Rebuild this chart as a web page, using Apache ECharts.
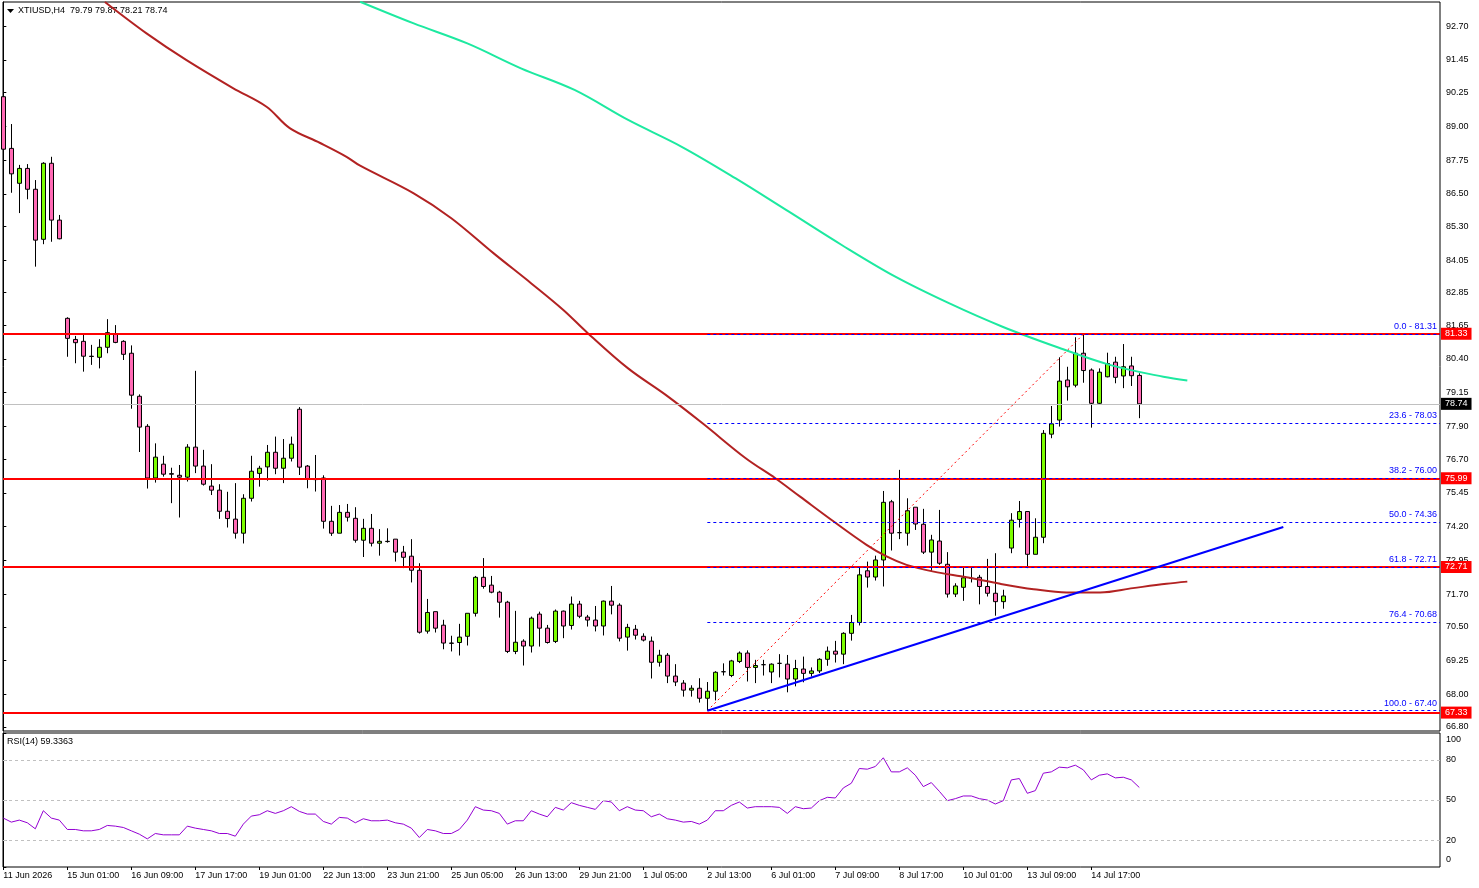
<!DOCTYPE html>
<html lang="en">
<head>
    <meta charset="UTF-8"/>
    <title>XTIUSD,H4</title>
    <script src="https://cdn.jsdelivr.net/npm/echarts@6/dist/echarts.min.js"></script>
    <style>
        html, body { margin: 0; padding: 0; background: #fff; }
        #chart { width: 1479px; height: 888px; }
    </style>
</head>
<body>
<div id="chart"></div>
<script type="text/javascript">
    // H4 bars (index = bar number from the left)
    var barOpen = [90.09, 88.18, 86.89, 87.44, 86.67, 84.82, 87.63, 85.53,
        81.90, 81.12, 81.05, 80.50, 80.46, 80.83, 81.32, 81.05, 80.61, 79.02, 77.91, 76.00,
        76.51, 76.16, 76.10, 76.03, 77.14, 76.44, 75.70, 75.55, 74.77, 74.48,
        73.96, 75.25, 76.17, 76.41, 76.95, 76.36, 76.73, 78.54, 76.44, 75.97,
        76.00, 74.40, 73.96, 74.73, 74.51, 73.70, 74.14, 73.59, 73.66, 73.74,
        73.26, 73.11, 72.59, 70.34, 71.06, 70.56, 69.90, 69.92, 70.15, 71.00,
        72.33, 72.04, 71.78, 71.41, 69.59, 69.97, 69.79, 70.97, 70.45, 69.96,
        71.08, 70.55, 71.34, 70.86, 70.75, 70.53, 71.45, 71.30, 70.12, 70.41,
        70.15, 69.97, 69.19, 69.45, 68.68, 68.42, 68.16, 68.23, 67.86, 68.12,
        68.84, 68.70, 69.22, 69.53, 69.00, 69.10, 68.83, 69.15, 69.12, 68.57,
        68.94, 68.78, 68.87, 69.30, 69.60, 69.49, 70.26, 70.66, 72.57, 72.34,
        72.97, 75.12, 73.98, 73.96, 74.92, 74.29, 73.26, 73.67, 72.81, 71.71,
        71.96, 72.29, 72.33, 71.99, 71.74, 71.43, 73.41, 74.47, 74.76, 73.18,
        73.81, 77.62, 78.14, 79.62, 79.43, 80.61, 79.99, 78.76, 79.74, 80.28,
        79.77, 80.14, 79.79];
    var barClose = [88.15, 87.24, 87.44, 86.67, 84.79, 87.63, 85.53, 84.84,
        81.16, 81.00, 80.50, 80.49, 80.83, 81.37, 81.01, 80.57, 79.06, 77.88, 76.00, 76.77,
        76.14, 76.14, 76.03, 77.14, 76.44, 75.77, 75.55, 74.77, 74.50, 73.96,
        75.25, 76.25, 76.36, 76.95, 76.36, 76.73, 77.25, 76.40, 75.96, 75.94,
        74.40, 73.96, 74.73, 74.55, 73.70, 74.14, 73.59, 73.66, 73.65, 73.26,
        73.07, 72.59, 70.30, 71.03, 70.45, 69.90, 69.89, 70.12, 71.00, 72.33,
        71.99, 71.78, 71.41, 69.59, 69.93, 69.79, 70.82, 70.45, 69.92, 71.08,
        70.53, 71.34, 70.89, 70.75, 70.53, 71.45, 71.30, 70.08, 70.48, 70.19,
        70.01, 69.19, 69.45, 68.68, 68.46, 68.16, 68.23, 67.86, 68.12, 68.82,
        68.84, 69.24, 69.53, 69.00, 69.07, 69.10, 69.12, 69.15, 68.57, 68.96,
        68.78, 68.87, 69.30, 69.60, 69.49, 70.26, 70.66, 72.42, 72.34, 72.97,
        75.10, 73.96, 73.98, 74.79, 74.30, 73.26, 73.71, 72.85, 71.71, 72.01,
        72.31, 72.29, 71.99, 71.74, 71.43, 71.64, 74.44, 74.76, 73.18, 73.81,
        77.65, 78.00, 79.58, 79.37, 80.61, 79.97, 78.76, 79.91, 80.23, 79.72,
        80.11, 79.78, 78.74];
    var barLow = [87.27, 86.54, 85.79, 86.30, 83.81, 84.64, 84.73, 84.82,
        80.48, 80.24, 79.93, 80.18, 80.05, 80.61, 80.98, 80.36, 78.56, 76.96, 75.61, 75.83,
        76.05, 75.07, 74.54, 75.87, 76.18, 75.72, 75.37, 74.49, 74.17, 73.76,
        73.58, 75.13, 75.68, 75.90, 76.14, 75.81, 76.61, 76.11, 75.62, 75.50,
        74.13, 73.86, 73.96, 74.39, 73.61, 73.08, 73.47, 73.13, 73.61, 72.91,
        72.67, 72.14, 70.25, 70.25, 70.29, 69.67, 69.59, 69.44, 69.81, 70.88,
        71.91, 71.74, 70.84, 69.53, 69.49, 69.07, 69.55, 69.77, 69.88, 69.90,
        70.08, 70.40, 70.82, 70.51, 70.33, 70.18, 70.96, 69.96, 69.62, 70.03,
        69.96, 68.59, 69.03, 68.42, 68.31, 67.92, 67.92, 67.70, 67.40, 67.78,
        68.70, 68.64, 69.16, 68.48, 68.42, 68.70, 68.42, 68.63, 68.08, 68.30,
        68.45, 68.66, 68.79, 69.06, 69.18, 69.12, 69.99, 70.55, 71.95, 72.21,
        71.99, 73.32, 73.74, 73.50, 74.08, 73.19, 72.57, 72.79, 71.58, 71.60,
        71.46, 72.14, 71.33, 71.62, 70.91, 71.17, 73.22, 74.17, 72.67, 73.18,
        73.59, 77.47, 77.90, 78.86, 79.35, 79.52, 77.86, 78.74, 79.72, 79.50,
        79.32, 79.40, 78.21];
    var barHigh = [92.26, 89.08, 87.57, 87.60, 87.01, 87.67, 87.87, 85.72,
        81.94, 81.25, 81.35, 80.92, 81.13, 81.87, 81.65, 81.09, 80.90, 79.09, 77.99, 77.28,
        76.82, 76.38, 76.48, 77.25, 79.96, 77.04, 76.51, 75.77, 75.49, 75.81,
        75.40, 76.82, 76.45, 77.22, 77.53, 77.44, 77.53, 78.62, 76.48, 76.85,
        76.10, 74.97, 75.00, 75.04, 74.92, 74.49, 74.67, 74.11, 74.14, 73.74,
        73.49, 73.74, 72.85, 71.53, 71.06, 70.76, 70.17, 70.61, 71.00, 72.38,
        73.04, 72.38, 71.83, 71.46, 71.09, 70.04, 70.88, 71.06, 70.57, 71.14,
        71.10, 71.62, 71.46, 70.94, 71.27, 71.47, 72.01, 71.37, 70.61, 70.57,
        70.26, 70.14, 69.65, 69.53, 69.12, 68.53, 68.34, 68.60, 68.46, 68.86,
        69.15, 69.28, 69.59, 69.63, 69.28, 69.28, 69.15, 69.49, 69.46, 69.28,
        69.40, 69.00, 69.34, 69.77, 69.98, 70.30, 70.94, 72.70, 72.91, 73.13,
        75.52, 75.19, 76.30, 75.25, 74.92, 74.86, 73.90, 74.82, 73.26, 72.11,
        72.70, 72.70, 72.42, 73.01, 73.22, 71.87, 74.70, 75.15, 74.76, 74.51,
        77.77, 78.66, 80.46, 80.11, 81.20, 81.31, 80.05, 80.05, 80.63, 80.48,
        80.95, 80.48, 79.87];

    // RSI(14), one value per bar
    var rsiValues = [36.5, 33.5, 35, 33, 28.5, 42, 36.5, 35, 28, 28,
        27, 27, 28, 31, 30.5, 29.5, 27, 24.5, 21, 25,
        24, 24, 24, 30.5, 29, 28, 27, 25, 25, 23,
        32, 38, 39, 42, 40, 42, 45, 41.5, 39.5, 39.5,
        34, 32, 37, 36.5, 33, 36, 34.5, 34.5, 35, 33,
        32, 29, 22, 28, 27, 25, 25, 28, 35, 45,
        42.5, 42, 40, 32, 34.5, 34.5, 42, 39.5, 37.5, 44.5,
        42.5, 48, 46, 44.5, 43, 49.5, 48.5, 42, 45, 42.5,
        42, 37.5, 39.5, 36, 35, 33.5, 34, 32, 35, 42,
        42, 46, 48.5, 44, 45, 45, 45, 44.5, 40, 45,
        43.5, 44, 49.5, 52, 51.5, 59, 62.5, 73.5, 73, 75,
        81.5, 71, 71, 74, 68.5, 60, 63, 56.5, 49.5, 51,
        53, 53, 51, 50, 47, 49.5, 65, 66, 55, 57,
        70, 71, 74.5, 74, 76, 72.5, 65, 68.5, 69.5, 66.5,
        67, 65, 59.34];

    // moving averages (shifted forward), read as [bar position, price]
    var maSlow = [[12.7, 93.59], [17.9, 92.43], [22.9, 91.44], [28.7, 90.41], [32.9, 89.72],
        [35.8, 88.93], [39.6, 88.38], [42.9, 87.87], [44.6, 87.54], [51.3, 86.52],
        [56.0, 85.60], [61.3, 84.30], [66.0, 83.19], [70.0, 82.21], [73.0, 81.37],
        [78.1, 80.05], [82.8, 79.07], [87.4, 78.02], [92.8, 76.73], [96.5, 75.99],
        [99.6, 75.31], [103.8, 74.39], [107.9, 73.53], [110.4, 73.10], [112.9, 72.79],
        [116.3, 72.54], [120.4, 72.33], [124.6, 72.09], [128.8, 71.89], [132.9, 71.77],
        [137.1, 71.77], [141.2, 71.93], [145.4, 72.09], [148.0, 72.17]];
    var maLong = [[44.6, 93.60], [51.3, 92.80], [58.0, 92.06], [64.7, 91.14], [71.4, 90.34],
        [78.1, 89.23], [84.8, 88.24], [91.5, 87.08], [98.2, 85.84], [104.8, 84.61],
        [111.5, 83.44], [118.2, 82.46], [124.9, 81.59], [131.6, 80.85], [138.3, 80.18],
        [145.0, 79.74], [148.0, 79.60]];

    var priceTicks = [92.70, 91.45, 90.25, 89.00, 87.75, 86.50, 85.30, 84.05, 82.85, 81.65,
        80.40, 79.15, 77.90, 76.70, 75.45, 74.20, 72.95, 71.70, 70.50, 69.25, 68.00, 66.80];
    var timeTicks = [0, 8, 16, 24, 32, 40, 48, 56, 64, 72, 80, 88, 96, 104, 112, 120, 128, 136];
    var timeLabels = ['11 Jun 2026', '15 Jun 01:00', '16 Jun 09:00', '17 Jun 17:00', '19 Jun 01:00',
        '22 Jun 13:00', '23 Jun 21:00', '25 Jun 05:00', '26 Jun 13:00', '29 Jun 21:00',
        '1 Jul 05:00', '2 Jul 13:00', '6 Jul 01:00', '7 Jul 09:00', '8 Jul 17:00',
        '10 Jul 01:00', '13 Jul 09:00', '14 Jul 17:00'];
    var rsiTicks = [0, 20, 50, 80, 100];
    var rsiLevels = [20, 50, 80];

    var redLevels = [81.33, 75.99, 72.71, 67.33];
    var lastPrice = 78.74;
    var fibRatios = ['0.0', '23.6', '38.2', '50.0', '61.8', '76.4', '100.0'];
    var fibPrices = [81.31, 78.03, 76.00, 74.36, 72.71, 70.68, 67.40];
    var fibFromBar = 88;
    var fibSwing = [[88, 67.40], [135, 81.31]];
    var trendLine = [[88, 67.40], [160, 74.19]];

    var FONT = 'Liberation Sans';
    var X_MIN = -0.04, X_MAX = 179.585;

    var candles = barOpen.map(function (o, i) {
        return [i, o, barClose[i], barLow[i], barHigh[i]];
    });
    var rsiData = rsiValues.map(function (v, i) {
        return [i, v];
    });

    var lines = [];
    redLevels.forEach(function (p) {
        lines.push({
            yAxis: p,
            lineStyle: {color: '#ff0000', width: 2, type: 'solid'},
            label: {
                show: true, position: 'end', distance: 1, formatter: p.toFixed(2),
                color: '#fff', backgroundColor: '#ff0000', padding: [2, 4, 1, 4],
                fontSize: 9, fontFamily: FONT
            }
        });
    });
    lines.push({
        yAxis: lastPrice,
        lineStyle: {color: '#c0c0c0', width: 1, type: 'solid'},
        label: {
            show: true, position: 'end', distance: 1, formatter: lastPrice.toFixed(2),
            color: '#fff', backgroundColor: '#000', padding: [2, 4, 1, 4],
            fontSize: 9, fontFamily: FONT
        }
    });
    fibPrices.forEach(function (p, k) {
        lines.push([
            {
                coord: [fibFromBar, p],
                lineStyle: {color: '#0000ff', width: 1, type: [3, 3]},
                label: {
                    show: true, position: 'insideEndTop', distance: 3,
                    formatter: fibRatios[k] + ' - ' + p.toFixed(2),
                    color: '#0000ff', fontSize: 9, fontFamily: FONT
                }
            },
            {coord: [X_MAX, p]}
        ]);
    });
    lines.push([
        {coord: fibSwing[0], lineStyle: {color: '#ff0000', width: 1, type: [2, 3]}, label: {show: false}},
        {coord: fibSwing[1]}
    ]);
    lines.push([
        {coord: trendLine[0], lineStyle: {color: '#0000ff', width: 2, type: 'solid'}, label: {show: false}},
        {coord: trendLine[1]}
    ]);

    var chart = echarts.init(document.getElementById('chart'));
    chart.setOption({
        animation: false,
        backgroundColor: '#fff',
        textStyle: {fontFamily: FONT},
        grid: [
            {left: 3, top: 2, width: 1437, height: 729, show: true, borderColor: '#000', borderWidth: 1},
            {left: 3, top: 733, width: 1437, height: 134, show: true, borderColor: '#000', borderWidth: 1}
        ],
        xAxis: [
            {
                type: 'value', gridIndex: 0, min: X_MIN, max: X_MAX,
                axisLine: {show: false}, axisTick: {show: false},
                axisLabel: {show: false}, splitLine: {show: false}
            },
            {
                type: 'value', gridIndex: 1, min: X_MIN, max: X_MAX,
                axisLine: {show: false},
                axisTick: {show: true, customValues: timeTicks, length: 3, lineStyle: {color: '#000'}},
                axisLabel: {
                    show: true, customValues: timeTicks, align: 'left', margin: 4,
                    fontSize: 9, fontFamily: FONT, color: '#000',
                    formatter: function (v) {
                        return timeLabels[timeTicks.indexOf(v)] || '';
                    }
                },
                splitLine: {show: false}
            }
        ],
        yAxis: [
            {
                type: 'value', gridIndex: 0, position: 'right', min: 66.65, max: 93.59,
                axisLine: {show: true, lineStyle: {color: '#000'}},
                axisTick: {show: true, customValues: priceTicks, length: 3, lineStyle: {color: '#000'}},
                axisLabel: {
                    show: true, customValues: priceTicks, margin: 6,
                    fontSize: 9, fontFamily: FONT, color: '#000',
                    formatter: function (v) { return v.toFixed(2); }
                },
                splitLine: {show: false}
            },
            {
                type: 'value', gridIndex: 1, position: 'right', min: 0, max: 100,
                axisLine: {show: true, lineStyle: {color: '#000'}},
                axisTick: {show: true, customValues: rsiTicks, length: 3, lineStyle: {color: '#000'}},
                axisLabel: {
                    show: true, customValues: rsiTicks, margin: 6,
                    fontSize: 9, fontFamily: FONT, color: '#000',
                    // MT4 pulls the 0 and 100 labels inside the window
                    formatter: function (v) {
                        if (v === 100) return '{t|100}';
                        if (v === 0) return '{b|0}';
                        return String(v);
                    },
                    rich: {
                        t: {padding: [14, 0, 0, 0], fontSize: 9, fontFamily: FONT, color: '#000'},
                        b: {padding: [0, 0, 14, 0], fontSize: 9, fontFamily: FONT, color: '#000'}
                    }
                },
                splitLine: {show: false}
            }
        ],
        graphic: [
            {type: 'polygon', shape: {points: [[7, 9], [14, 9], [10.5, 13]]}, style: {fill: '#000'}},
            {
                type: 'text', left: 18, top: 6,
                style: {text: 'XTIUSD,H4  79.79 79.87 78.21 78.74', font: '9px "Liberation Sans"', fill: '#000'}
            },
            {
                type: 'text', left: 7, top: 737,
                style: {text: 'RSI(14) 59.3363', font: '9px "Liberation Sans"', fill: '#000'}
            }
        ],
        series: [
            {
                type: 'candlestick', name: 'XTIUSD', xAxisIndex: 0, yAxisIndex: 0,
                data: candles, encode: {x: 0, y: [1, 2, 3, 4]},
                barWidth: 4,
                itemStyle: {
                    color: '#7cfc00', color0: '#ff69b4',
                    borderColor: '#000', borderColor0: '#000', borderColorDoji: '#000',
                    borderWidth: 1
                },
                markLine: {
                    silent: true, symbol: ['none', 'none'], animation: false,
                    data: lines
                }
            },
            {
                type: 'line', name: 'MA slow', xAxisIndex: 0, yAxisIndex: 0,
                data: maSlow, showSymbol: false, smooth: 0.35,
                lineStyle: {color: '#b22222', width: 2}, z: 3
            },
            {
                type: 'line', name: 'MA long', xAxisIndex: 0, yAxisIndex: 0,
                data: maLong, showSymbol: false, smooth: 0.35,
                lineStyle: {color: '#1de9a0', width: 2}, z: 3
            },
            {
                type: 'line', name: 'RSI(14)', xAxisIndex: 1, yAxisIndex: 1,
                data: rsiData, showSymbol: false,
                lineStyle: {color: '#9400d3', width: 1},
                markLine: {
                    silent: true, symbol: ['none', 'none'], animation: false,
                    label: {show: false},
                    lineStyle: {color: '#c0c0c0', width: 1, type: [3, 3]},
                    data: rsiLevels.map(function (v) { return {yAxis: v}; })
                }
            }
        ]
    });
</script>
</body>
</html>
